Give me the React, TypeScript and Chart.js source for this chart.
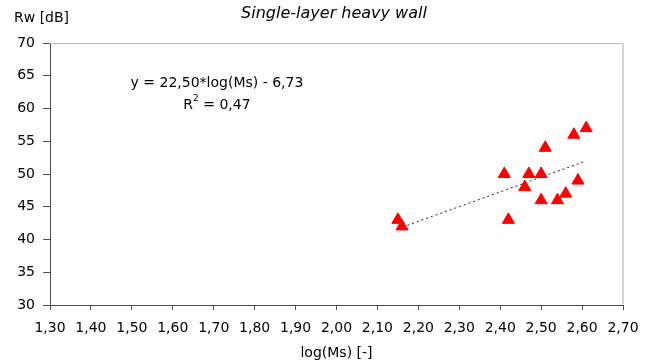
import React, { useEffect, useRef } from "react";
import { Chart, registerables } from "chart.js";

Chart.register(...registerables);

const chartTitle = "Single-layer heavy wall";
const yAxisTitle = "Rw [dB]";
const xAxisTitle = "log(Ms) [-]";
const equationText = "y = 22,50*log(Ms) - 6,73";
const r2Value = "0,47";

const logMs = [2.15, 2.16, 2.41, 2.42, 2.47, 2.46, 2.5, 2.51, 2.5, 2.54, 2.56, 2.59, 2.58, 2.61];
const rwValues = [43, 42, 50, 43, 50, 48, 50, 54, 46, 46, 47, 49, 56, 57];

const trendSlope = 22.5;
const trendIntercept = -6.73;

const xMin = 1.3;
const xMax = 2.7;
const xStep = 0.1;
const yMin = 30;
const yMax = 70;
const yStep = 5;

const FONT = '"DejaVu Sans", "Liberation Sans", Arial, sans-serif';

export default function App() {
  const ref = useRef<HTMLCanvasElement | null>(null);

  useEffect(() => {
    document.body.style.margin = "0";
    const canvas = ref.current;
    if (!canvas) return;

    const points = logMs.map((x, i) => ({ x, y: rwValues[i] }));
    const tx0 = Math.min(...logMs);
    const tx1 = Math.max(...logMs);
    const trend = [
      { x: tx0, y: trendSlope * tx0 + trendIntercept },
      { x: tx1, y: trendSlope * tx1 + trendIntercept },
    ];

    const textPlugin = {
      id: "texts",
      beforeDatasetsDraw(chart: any) {
        const { ctx, chartArea } = chart;
        ctx.save();
        ctx.strokeStyle = "#b8b8b8";
        ctx.lineWidth = 1;
        ctx.beginPath();
        ctx.moveTo(chartArea.left, chartArea.top + 0.5);
        ctx.lineTo(chartArea.right, chartArea.top + 0.5);
        ctx.stroke();
        ctx.strokeStyle = "#d6d6d6";
        ctx.lineWidth = 2;
        ctx.beginPath();
        ctx.moveTo(chartArea.right, chartArea.top);
        ctx.lineTo(chartArea.right, chartArea.bottom);
        ctx.stroke();
        ctx.restore();
      },
      afterDraw(chart: any) {
        const { ctx } = chart;
        ctx.save();
        ctx.fillStyle = "#000";
        ctx.textBaseline = "middle";
        ctx.textAlign = "center";
        ctx.font = `italic 16px ${FONT}`;
        ctx.fillText(chartTitle, 334, 14);

        ctx.font = `14px ${FONT}`;
        ctx.textAlign = "left";
        ctx.fillText(yAxisTitle, 14, 18);

        ctx.textAlign = "center";
        ctx.fillText(equationText, 217, 83);

        // R² line
        ctx.textAlign = "left";
        ctx.font = `14px ${FONT}`;
        const wR = ctx.measureText("R").width;
        const rest = " = " + r2Value;
        const wRest = ctx.measureText(rest).width;
        ctx.font = `9px ${FONT}`;
        const w2 = ctx.measureText("2").width;
        const total = wR + w2 + wRest;
        const sx = 217 - total / 2;
        ctx.font = `14px ${FONT}`;
        ctx.fillText("R", sx, 105);
        ctx.font = `9px ${FONT}`;
        ctx.fillText("2", sx + wR, 99);
        ctx.font = `14px ${FONT}`;
        ctx.fillText(rest, sx + wR + w2, 105);
        ctx.restore();
      },
    };

    const chart = new Chart(canvas, {
      type: "scatter",
      data: {
        datasets: [
          {
            label: "Rw",
            data: points,
            pointStyle: "triangle",
            pointRadius: 7,
            pointBackgroundColor: "#ff0000",
            pointBorderColor: "#ff0000",
            pointBorderWidth: 1,
            showLine: false,
            order: 1,
          },
          {
            label: "trend",
            data: trend,
            showLine: true,
            borderColor: "#202020",
            borderWidth: 1,
            borderDash: [2, 3],
            pointRadius: 0,
            fill: false,
            order: 2,
          } as any,
        ],
      },
      options: {
        responsive: false,
        animation: false,
        devicePixelRatio: 1,
        layout: { padding: { top: 43, right: 31, left: 0, bottom: 0 } },
        plugins: {
          legend: { display: false },
          tooltip: { enabled: false },
          title: { display: false },
        },
        scales: {
          x: {
            type: "linear",
            min: xMin,
            max: xMax,
            afterFit(scale: any) {
              scale.height = 58;
            },
            ticks: {
              stepSize: xStep,
              color: "#000",
              font: { family: FONT, size: 14 },
              padding: 10,
              maxRotation: 0,
              autoSkip: false,
              callback: (v: any) => Number(v).toFixed(2).replace(".", ","),
            },
            grid: {
              drawOnChartArea: false,
              drawTicks: true,
              tickLength: 5,
              tickColor: "#505050",
            },
            border: { color: "#505050", width: 1 },
            title: {
              display: true,
              text: xAxisTitle,
              color: "#000",
              font: { family: FONT, size: 14 },
              padding: { top: 0, bottom: 1 },
            },
          },
          y: {
            type: "linear",
            min: yMin,
            max: yMax,
            afterFit(scale: any) {
              scale.width = 50;
            },
            ticks: {
              stepSize: yStep,
              color: "#000",
              font: { family: FONT, size: 14 },
              padding: 8,
            },
            grid: {
              drawOnChartArea: false,
              drawTicks: true,
              tickLength: 7,
              tickColor: "#505050",
            },
            border: { color: "#505050", width: 1 },
          },
        },
      },
      plugins: [textPlugin],
    });

    return () => chart.destroy();
  }, []);

  return (
    <div style={{ width: 654, height: 363 }}>
      <canvas ref={ref} width={654} height={363} style={{ display: "block" }} />
    </div>
  );
}
